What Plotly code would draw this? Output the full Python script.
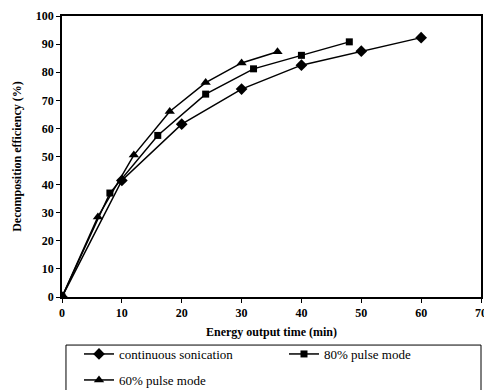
import plotly.graph_objects as go

cont_x = [0, 10, 20, 30, 40, 50, 60]
cont_y = [0, 41.5, 61.5, 74, 82.5, 87.5, 92.3]
p80_x = [0, 8, 16, 24, 32, 40, 48]
p80_y = [0, 37, 57.5, 72.2, 81.2, 86, 90.8]
p60_x = [0, 6, 12, 18, 24, 30, 36]
p60_y = [0, 28.5, 50.5, 66, 76.3, 83.3, 87.3]

names = ["continuous sonication", "80% pulse mode", "60% pulse mode"]
FONT = "Liberation Serif"

W, H = 484, 382  # page body has an 8px margin

fig = go.Figure()
fig.add_trace(go.Scatter(x=cont_x, y=cont_y, name=names[0], mode="lines+markers",
                         line=dict(color="black", width=1.5), legend="legend",
                         marker=dict(symbol="diamond", size=9, color="black")))
fig.add_trace(go.Scatter(x=p80_x, y=p80_y, name=names[1], mode="lines+markers",
                         line=dict(color="black", width=1.5), legend="legend2",
                         marker=dict(symbol="square", size=7, color="black")))
fig.add_trace(go.Scatter(x=p60_x, y=p60_y, name=names[2], mode="lines+markers",
                         line=dict(color="black", width=1.5), legend="legend3",
                         marker=dict(symbol="triangle-up", size=9, color="black")))

leg_common = dict(orientation="h", xref="container", yref="container",
                  xanchor="left", yanchor="middle",
                  font=dict(family=FONT, size=13, color="black"),
                  bgcolor="rgba(0,0,0,0)", itemwidth=30)

fig.update_layout(
    width=W, height=H,
    margin=dict(l=54, r=11, t=8, b=93, autoexpand=False),
    paper_bgcolor="white", plot_bgcolor="white",
    font=dict(family=FONT, color="black", size=12),
    showlegend=True,
    legend=dict(**leg_common, x=71 / W, y=1 - 346 / H),
    legend2=dict(**leg_common, x=276 / W, y=1 - 346 / H),
    legend3=dict(**leg_common, x=71 / W, y=1 - 372 / H),
    xaxis=dict(range=[0, 70], tickvals=[0, 10, 20, 30, 40, 50, 60, 70],
               showgrid=False, zeroline=False, showline=True, linecolor="black",
               linewidth=1.5, mirror=True, ticks="outside", ticklen=4,
               ticklabeloverflow="allow",
               tickcolor="black", tickfont=dict(family=FONT, size=12, weight="bold"),
               title=dict(text="<b>Energy output time (min)</b>",
                          font=dict(family=FONT, size=12), standoff=8)),
    yaxis=dict(range=[0, 100], tickvals=list(range(0, 101, 10)),
               showgrid=False, zeroline=False, showline=True, linecolor="black",
               linewidth=1.5, mirror=True, ticks="outside", ticklen=4,
               tickcolor="black", tickfont=dict(family=FONT, size=12, weight="bold"),
               title=dict(text="<b>Decomposition efficiency (%)</b>",
                          font=dict(family=FONT, size=12), standoff=12)),
    shapes=[dict(type="rect", xref="paper", yref="paper", x0=0.0095, x1=1.0,
                 y0=-0.377, y1=-0.171, line=dict(color="black", width=1))],
)

fig.write_html("out.html")
